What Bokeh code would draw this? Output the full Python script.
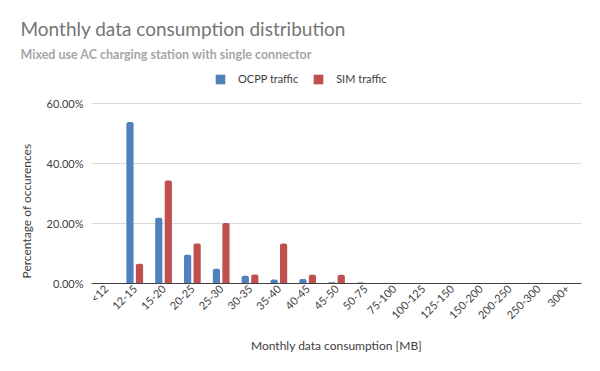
import math
from bokeh.plotting import figure
from bokeh.models import (ColumnDataSource, FactorRange, Range1d, Title, Legend, LegendItem,
                          NumeralTickFormatter, FixedTicker)
from bokeh.transform import dodge
from bokeh.embed import file_html
from bokeh.resources import INLINE

categories = ["<12", "12-15", "15-20", "20-25", "25-30", "30-35", "35-40", "40-45", "45-50",
              "50-75", "75-100", "100-125", "125-150", "150-200", "200-250", "250-300", "300+"]
ocpp = [0.0, 0.538, 0.219, 0.096, 0.049, 0.026, 0.013, 0.015, 0.004, 0.003, 0.001,
        0.0, 0.0, 0.0, 0.0, 0.0, 0.0]
sim = [0.0, 0.066, 0.343, 0.133, 0.202, 0.030, 0.133, 0.029, 0.029, 0.0, 0.0,
       0.0, 0.0, 0.0, 0.0, 0.0, 0.0]
y_ticks = [0.0, 0.2, 0.4, 0.6]

FONT = "Lato"
BLUE = "#4F81BD"
RED = "#C0504D"

src = ColumnDataSource(data=dict(cat=categories, ocpp=ocpp, sim=sim))

p = figure(width=584, height=355, output_backend="svg", toolbar_location=None,
           x_range=FactorRange(*categories, range_padding=0), y_range=Range1d(0, 0.7167),
           min_border_left=91, min_border_right=3, min_border_top=68, min_border_bottom=72)
p.outline_line_color = None
p.background_fill_color = "white"
p.border_fill_color = "white"

r1 = p.vbar(x=dodge("cat", -0.165, range=p.x_range), top="ocpp", width=0.25, source=src,
            fill_color=BLUE, line_color=None, border_radius=(2, 2, 0, 0))
r2 = p.vbar(x=dodge("cat", 0.165, range=p.x_range), top="sim", width=0.25, source=src,
            fill_color=RED, line_color=None, border_radius=(2, 2, 0, 0))

p.xgrid.grid_line_color = None
p.ygrid.grid_line_color = "#d9d9d9"
p.ygrid.grid_line_width = 1

p.yaxis.ticker = FixedTicker(ticks=y_ticks)
p.yaxis.formatter = NumeralTickFormatter(format="0.00%")
p.yaxis.axis_line_color = None
p.yaxis.major_tick_line_color = None
p.yaxis.major_tick_out = 0
p.yaxis.minor_tick_line_color = None
p.yaxis.major_label_text_font = FONT
p.yaxis.major_label_text_font_size = "11px"
p.yaxis.major_label_text_color = "#404040"
p.yaxis.major_label_standoff = 8

p.xaxis.axis_line_color = "#404040"
p.xaxis.axis_line_width = 1
p.xaxis.major_tick_line_color = None
p.xaxis.major_tick_out = 0
p.xaxis.minor_tick_line_color = None
p.xaxis.major_label_orientation = math.pi / 4
p.xaxis.major_label_text_font = FONT
p.xaxis.major_label_text_font_size = "11px"
p.xaxis.major_label_text_color = "#404040"
p.xaxis.major_label_standoff = 3
p.xaxis.axis_label = "Monthly data consumption [MB]"
p.xaxis.axis_label_text_font = FONT
p.xaxis.axis_label_text_font_size = "12px"
p.xaxis.axis_label_text_font_style = "normal"
p.xaxis.axis_label_text_color = "#404040"
p.xaxis.axis_label_standoff = 9

legend = Legend(items=[LegendItem(label="OCPP traffic", renderers=[r1]),
                       LegendItem(label="SIM traffic", renderers=[r2])],
                orientation="horizontal", location=(123, 198),
                glyph_width=12, glyph_height=12, label_text_font=FONT,
                label_text_font_size="11px", label_text_color="#404040",
                padding=0, margin=0, spacing=14, label_standoff=12,
                border_line_color=None, background_fill_alpha=0)
p.add_layout(legend, "center")

p.add_layout(Title(text="Mixed use AC charging station with single connector", text_font=FONT,
                   text_font_size="12.5px", text_font_style="bold", text_color="#a6a6a6",
                   align="left", offset=-71, standoff=13), "above")

p.title.text = "Monthly data consumption distribution"
p.title.text_font = FONT
p.title.text_font_size = "19px"
p.title.text_font_style = "normal"
p.title.text_color = "#757575"
p.title.align = "left"
p.title.offset = -71
p.title.standoff = -3

p.add_layout(Title(text="Percentage of occurences", text_font=FONT, text_font_size="12px",
                   text_font_style="normal", text_color="#404040", align="left",
                   offset=5, standoff=20), "left")

open("out.html", "w").write(file_html(p, INLINE))
